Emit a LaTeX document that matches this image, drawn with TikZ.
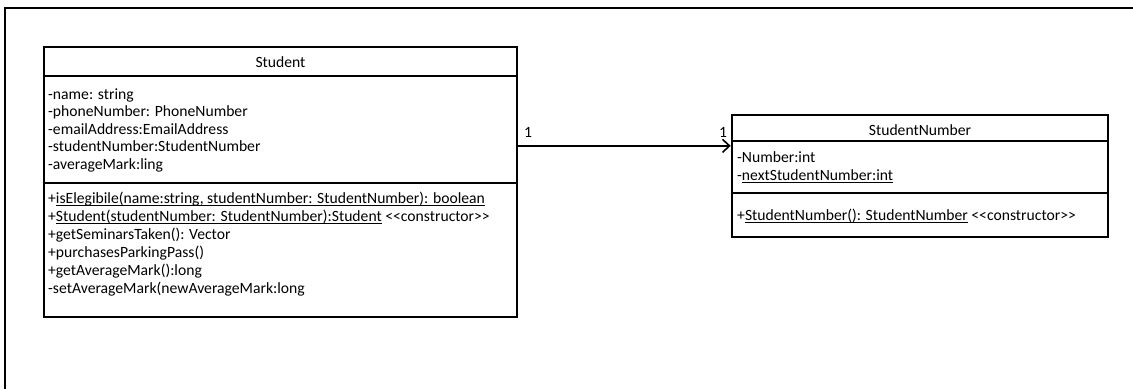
\documentclass[tikz,border=0pt]{standalone}
\usepackage{fontspec}
\setmainfont{Carlito}
\usetikzlibrary{arrows.meta,calc}
% underline at a fixed depth below the baseline
\newcommand\uline[1]{\setbox0\hbox{#1}\rlap{\rule[-2.4pt]{\wd0}{0.9pt}}\box0\relax}
% <<stereotype>> without guillemet ligatures
\newcommand\stereo[1]{<\kern0pt<#1>\kern0pt>}
\begin{document}
\begin{tikzpicture}[x=1pt,y=-1pt,
  font=\fontsize{15.65}{18}\selectfont,
  frame/.style={line width=2.4pt},
  classbox/.style={draw, line width=2.6pt, inner sep=0pt},
  sep/.style={line width=1.5pt},
  member/.style={anchor=base west, inner sep=0pt},
  title/.style={anchor=base, inner sep=0pt},
  mult/.style={anchor=base, inner sep=0pt},
  assoc/.style={line width=1.6pt, -{Straight Barb[length=7pt,width=13pt]}}]
\useasboundingbox (0,0) rectangle (1133,389);

% surrounding frame (open to the right and bottom)
\draw[frame] (1133,8) -- (5,8) -- (5,389);

% class Student
\node[classbox, minimum width=473pt, minimum height=270pt] (student) at (280.5,182) {};
\draw[sep] (student.west |- 0,76) -- (student.east |- 0,76);
\draw[sep] (student.west |- 0,183) -- (student.east |- 0,183);
\node[title] (studentTitle) at (280.5,67) {Student};
\node[member] (sa1) at (48,99)   {-name: string};
\node[member] (sa2) at (48,116.6) {-phoneNumber: PhoneNumber};
\node[member] (sa3) at (48,134.2) {-emailAddress:EmailAddress};
\node[member] (sa4) at (48,151.8) {-studentNumber:StudentNumber};
\node[member] (sa5) at (48,169.4) {-averageMark:ling};
\node[member] (sm1) at (48,203) {+\uline{isElegibile(name:string, studentNumber: StudentNumber): boolean}};
\node[member] (sm2) at (48,221) {+\uline{Student(studentNumber: StudentNumber):Student} \stereo{constructor}};
\node[member] (sm3) at (48,239) {+getSeminarsTaken(): Vector};
\node[member] (sm4) at (48,257) {+purchasesParkingPass()};
\node[member] (sm5) at (48,275) {+getAverageMark():long};
\node[member] (sm6) at (48,293) {-setAverageMark(newAverageMark:long};

% class StudentNumber
\node[classbox, minimum width=376pt, minimum height=122pt] (sn) at (920,176) {};
\draw[sep] (sn.west |- 0,141) -- (sn.east |- 0,141);
\draw[sep] (sn.west |- 0,193) -- (sn.east |- 0,193);
\node[title] (snTitle) at (920,135) {StudentNumber};
\node[member] (na1) at (737,162) {-Number:int};
\node[member] (na2) at (737,180) {-\uline{nextStudentNumber:int}};
\node[member] (nm1) at (737,220) {+\uline{StudentNumber(): StudentNumber} \stereo{constructor}};

% association Student -> StudentNumber
\coordinate (snport) at ($(sn.north west)!0.258!(sn.south west)$);
\draw[assoc] (student.east |- snport) -- (snport);
\node[mult] (multA) at (528,137) {1};
\node[mult] (multB) at (723,137) {1};
\end{tikzpicture}
\end{document}
